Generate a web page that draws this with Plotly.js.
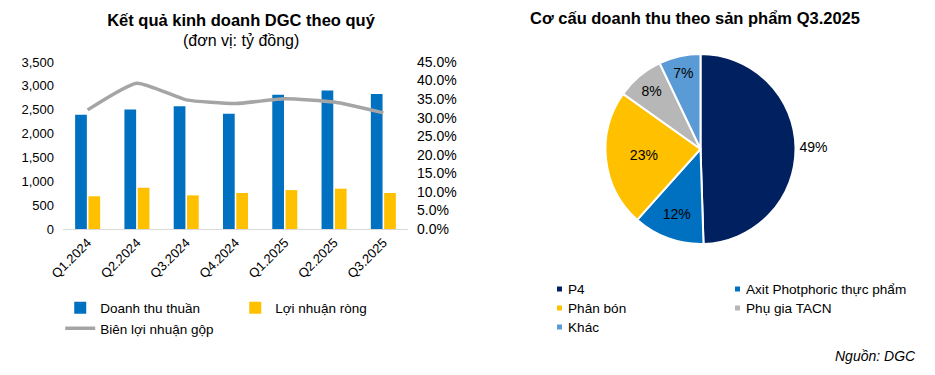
<!DOCTYPE html>
<html>
<head>
<meta charset="utf-8">
<script src="https://cdn.plot.ly/plotly-3.0.1.min.js"></script>
<style>
  html, body { margin: 0; padding: 0; background: #ffffff; }
  #left { position: absolute; left: 0; top: 0; width: 470px; height: 375px; }
  #right { position: absolute; left: 470px; top: 0; width: 465px; height: 375px; }
</style>
</head>
<body>
<div id="left"></div>
<div id="right"></div>
<script>
// ---- data: quarterly results (tỷ đồng) ----
const quarters = ['Q1.2024', 'Q2.2024', 'Q3.2024', 'Q4.2024', 'Q1.2025', 'Q2.2025', 'Q3.2025'];
const revenue = [2395, 2505, 2570, 2415, 2815, 2905, 2830];
const netProfit = [685, 865, 705, 755, 815, 845, 755];
const grossMargin = [0.321, 0.393, 0.348, 0.338, 0.351, 0.342, 0.313];

const seriesNames = ['Doanh thu thuần', 'Lợi nhuận ròng', 'Biên lợi nhuận gộp'];

// ---- data: revenue structure Q3.2025 (%) ----
const pieLabels = ['P4', 'Axit Photphoric thực phẩm', 'Phân bón', 'Phụ gia TACN', 'Khác'];
const pieValues = [49, 12, 23, 8, 7];
const pieColors = ['#002060', '#0070C0', '#FFC000', '#B7B7B7', '#5B9BD5'];

const FONT = '"Liberation Sans", Arial, sans-serif';
const config = { staticPlot: true, displayModeBar: false };

// ---------- left chart ----------
const LW = 470, LH = 375, LT = 62, LB = 146;
const leftTraces = [
  { type: 'bar', name: seriesNames[0], x: quarters, y: revenue, marker: { color: '#0070C0' }, yaxis: 'y' },
  { type: 'bar', name: seriesNames[1], x: quarters, y: netProfit, marker: { color: '#FFC000' }, yaxis: 'y' },
  { type: 'scatter', mode: 'lines', name: seriesNames[2], x: quarters, y: grossMargin, yaxis: 'y2',
    line: { color: '#A5A5A5', width: 3.5, shape: 'spline', smoothing: 0.5 } }
];

const plotH = LH - LT - LB;
const leftLayout = {
  width: LW, height: LH,
  paper_bgcolor: '#ffffff', plot_bgcolor: '#ffffff',
  font: { family: FONT, size: 13, color: '#000000' },
  margin: { l: 63, r: 62, t: LT, b: LB, autoexpand: false },
  title: {
    text: '<b>Kết quả kinh doanh DGC theo quý</b>',
    x: 241 / LW, xref: 'container', xanchor: 'center',
    y: 1 - 20 / LH, yref: 'container', yanchor: 'middle',
    font: { family: FONT, size: 16.5, color: '#000000' }
  },
  annotations: [{
    text: '(đơn vị: tỷ đồng)', xref: 'paper', yref: 'paper',
    x: (241 - 63) / (LW - 63 - 62), xanchor: 'center',
    y: 1 + (LT - 40) / plotH, yanchor: 'middle',
    showarrow: false, font: { family: FONT, size: 16, color: '#000000' }
  }],
  barmode: 'group', bargap: 0.46, bargroupgap: 0.12,
  showlegend: true,
  legend: {
    orientation: 'h', x: -0.008, xanchor: 'left', y: -0.38, yanchor: 'top',
    entrywidth: 130, traceorder: 'normal',
    font: { family: FONT, size: 13.5, color: '#000000' },
    bgcolor: 'rgba(0,0,0,0)'
  },
  xaxis: {
    type: 'category', tickangle: -45, showgrid: false, zeroline: false,
    showline: true, linecolor: '#D9D9D9', linewidth: 1, ticks: '',
    tickfont: { family: FONT, size: 13, color: '#000000' }
  },
  yaxis: {
    range: [0, 3500], dtick: 500, tickformat: ',d', showgrid: false, zeroline: false,
    showline: false, ticks: '', ticklabelstandoff: 8,
    tickfont: { family: FONT, size: 13, color: '#000000' }
  },
  yaxis2: {
    overlaying: 'y', side: 'right', range: [0, 0.45], dtick: 0.05, tickformat: '.1%',
    showgrid: false, zeroline: false, showline: false, ticks: '', ticklabelstandoff: 8,
    tickfont: { family: FONT, size: 14, color: '#000000' }
  }
};

Plotly.newPlot('left', leftTraces, leftLayout, config);

// ---------- right chart (pie) ----------
const pieTrace = {
  type: 'pie', labels: pieLabels, values: pieValues,
  sort: false, direction: 'clockwise', rotation: 0,
  marker: { colors: pieColors, line: { color: '#ffffff', width: 2 } },
  texttemplate: '%{value}%', textinfo: 'text',
  textposition: ['outside', 'inside', 'inside', 'inside', 'inside'],
  insidetextorientation: 'horizontal',
  textfont: { family: FONT, size: 14, color: '#000000' },
  outsidetextfont: { family: FONT, size: 14, color: '#000000' },
  insidetextfont: { family: FONT, size: 14, color: '#000000' },
  domain: { x: [(230.5 - 95) / 465, (230.5 + 95) / 465], y: [131 / 375, 321 / 375] },
  showlegend: false,
  hoverinfo: 'none'
};

// legend for the pie, laid out in two columns (square marker + label)
const RW = 465, RH = 375;
const legendShapes = [];
const legendAnnotations = [];
pieLabels.forEach(function (lab, i) {
  const col = i % 2, row = Math.floor(i / 2);
  const sqX = 87 + col * 178;           // px, left of marker square
  const cy = 289 + row * 19;            // px, vertical centre of the row
  legendShapes.push({
    type: 'rect', xref: 'paper', yref: 'paper',
    x0: sqX / RW, x1: (sqX + 5) / RW, y0: 1 - (cy + 2.5) / RH, y1: 1 - (cy - 2.5) / RH,
    fillcolor: pieColors[i], line: { width: 0 }
  });
  legendAnnotations.push({
    text: lab, xref: 'paper', yref: 'paper',
    x: (sqX + 9) / RW, xanchor: 'left', y: 1 - cy / RH, yanchor: 'middle',
    showarrow: false, font: { family: FONT, size: 13.6, color: '#000000' }
  });
});
legendAnnotations.push({
  text: '<i>Nguồn: DGC</i>', xref: 'paper', yref: 'paper',
  x: (918 - 470) / RW, xanchor: 'right', y: (375 - 356) / RH, yanchor: 'middle',
  showarrow: false, font: { family: FONT, size: 14, color: '#000000' }
});

const rightLayout = {
  width: RW, height: RH,
  paper_bgcolor: '#ffffff', plot_bgcolor: '#ffffff',
  font: { family: FONT, size: 13, color: '#000000' },
  margin: { l: 0, r: 0, t: 0, b: 0, autoexpand: false },
  title: {
    text: '<b>Cơ cấu doanh thu theo sản phẩm Q3.2025</b>',
    x: 225 / 465, xref: 'container', xanchor: 'center',
    y: 1 - 18 / 375, yref: 'container', yanchor: 'middle',
    font: { family: FONT, size: 16.5, color: '#000000' }
  },
  showlegend: false,
  shapes: legendShapes,
  annotations: legendAnnotations
};

Plotly.newPlot('right', [pieTrace], rightLayout, config);
</script>
</body>
</html>
